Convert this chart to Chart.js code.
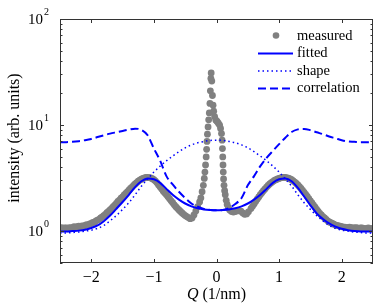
<!DOCTYPE html>
<html lang="en">
<head>
<meta charset="UTF-8">
<title>Intensity fit</title>
<script src="https://cdn.jsdelivr.net/npm/chart.js"></script>
<style>
  body { margin: 0; background: #fff; }
  #wrap { width: 382px; height: 306px; }
</style>
</head>
<body>
<div id="wrap"><canvas id="fitChart" width="382" height="306"></canvas></div>
<script>
// measured points (Q in 1/nm, intensity in arb. units), ten per line
const measuredQ = [-2.5,-2.475,-2.45,-2.425,-2.4,-2.375,-2.35,-2.325,-2.3,-2.275,
  -2.25,-2.225,-2.2,-2.175,-2.15,-2.125,-2.1,-2.075,-2.05,-2.025,
  -2.0,-1.975,-1.95,-1.925,-1.9,-1.875,-1.85,-1.825,-1.8,-1.775,
  -1.75,-1.725,-1.7,-1.675,-1.65,-1.625,-1.6,-1.575,-1.55,-1.525,
  -1.5,-1.475,-1.45,-1.425,-1.4,-1.375,-1.35,-1.325,-1.3,-1.275,
  -1.25,-1.225,-1.2,-1.175,-1.15,-1.125,-1.1,-1.075,-1.05,-1.025,
  -1.0,-0.975,-0.95,-0.925,-0.9,-0.875,-0.85,-0.825,-0.8,-0.775,
  -0.75,-0.725,-0.7,-0.675,-0.65,-0.625,-0.6,-0.575,-0.55,-0.525,
  -0.5,-0.475,-0.45,-0.42,-0.39,-0.36,-0.33,-0.3,-0.27,-0.25,
  -0.23,-0.21,-0.195,-0.185,-0.175,-0.165,-0.158,-0.152,-0.145,-0.135,
  -0.125,-0.115,-0.105,-0.098,-0.09,-0.085,-0.075,-0.065,-0.055,-0.045,
  -0.03,-0.01,0.01,0.03,0.05,0.065,0.08,0.09,0.095,0.1,
  0.104,0.108,0.113,0.12,0.13,0.14,0.155,0.17,0.19,0.21,
  0.24,0.27,0.3,0.33,0.36,0.39,0.42,0.45,0.48,0.51,
  0.55,0.575,0.6,0.625,0.65,0.675,0.7,0.725,0.75,0.775,
  0.8,0.825,0.85,0.875,0.9,0.925,0.95,0.975,1.0,1.025,
  1.05,1.075,1.1,1.125,1.15,1.175,1.2,1.225,1.25,1.275,
  1.3,1.325,1.35,1.375,1.4,1.425,1.45,1.475,1.5,1.525,
  1.55,1.575,1.6,1.625,1.65,1.675,1.7,1.725,1.75,1.775,
  1.8,1.825,1.85,1.875,1.9,1.925,1.95,1.975,2.0,2.025,
  2.05,2.075,2.1,2.125,2.15,2.175,2.2,2.225,2.25,2.275,
  2.3,2.325,2.35,2.375,2.4,2.425,2.45,2.475,2.5];
const measuredI = [1.06,1.08,1.05,1.07,1.07,1.05,1.08,1.07,1.08,1.1,
  1.08,1.1,1.11,1.09,1.12,1.11,1.13,1.15,1.14,1.17,
  1.18,1.21,1.21,1.25,1.27,1.29,1.33,1.36,1.4,1.44,
  1.49,1.53,1.58,1.64,1.7,1.76,1.82,1.9,1.96,2.04,
  2.1,2.19,2.27,2.34,2.43,2.52,2.6,2.7,2.78,2.87,
  2.95,3.03,3.08,3.14,3.17,3.2,3.2,3.19,3.17,3.12,
  3.05,2.96,2.85,2.72,2.6,2.49,2.38,2.29,2.2,2.11,
  2.02,1.93,1.85,1.77,1.7,1.64,1.58,1.53,1.48,1.44,
  1.4,1.37,1.34,1.31,1.33,1.42,1.55,1.7,1.88,2.05,
  2.35,2.7,3.14,3.6,4.2,5.0,5.9,7.0,8.2,9.6,
  11.2,13.0,16.0,21.0,27.5,31.0,26.0,19.0,15.4,13.5,
  12.0,11.1,10.8,10.4,10.0,9.3,8.3,7.2,6.0,5.0,
  4.2,3.6,3.1,2.7,2.4,2.2,1.95,1.78,1.66,1.58,
  1.53,1.51,1.53,1.55,1.56,1.54,1.48,1.44,1.45,1.52,
  1.63,1.71,1.8,1.9,2.0,2.1,2.2,2.3,2.4,2.5,
  2.6,2.69,2.78,2.86,2.93,3.0,3.05,3.1,3.14,3.18,
  3.2,3.21,3.2,3.18,3.15,3.1,3.05,2.98,2.9,2.81,
  2.72,2.62,2.52,2.42,2.32,2.22,2.12,2.02,1.93,1.84,
  1.76,1.68,1.6,1.53,1.47,1.42,1.37,1.33,1.29,1.25,
  1.22,1.2,1.18,1.16,1.14,1.13,1.12,1.11,1.1,1.09,
  1.09,1.08,1.08,1.09,1.08,1.07,1.07,1.08,1.07,1.06,
  1.07,1.07,1.06,1.05,1.06,1.07,1.06,1.05,1.06];

// model curves on a common Q grid
const curveQ = [-2.5,-2.4,-2.3,-2.2,-2.1,-2.0,-1.9,-1.8,-1.7,-1.6,
  -1.5,-1.4,-1.3,-1.2,-1.1,-1.0,-0.9,-0.8,-0.7,-0.6,
  -0.5,-0.4,-0.3,-0.2,-0.1,0,0.1,0.2,0.3,0.4,
  0.5,0.6,0.7,0.8,0.9,1.0,1.1,1.2,1.3,1.4,
  1.5,1.6,1.7,1.8,1.9,2.0,2.1,2.2,2.3,2.4,2.5];
const fittedI = [0.99,0.99,1.0,1.01,1.03,1.07,1.13,1.24,1.4,1.62,
  1.88,2.2,2.6,2.95,3.14,3.08,2.85,2.5,2.2,1.98,
  1.82,1.71,1.64,1.6,1.58,1.57,1.58,1.6,1.64,1.71,
  1.82,1.98,2.2,2.5,2.85,3.08,3.14,2.95,2.55,2.12,
  1.75,1.47,1.3,1.18,1.1,1.05,1.02,1.0,0.99,0.99,0.99];
const shapeI = [0.96,0.96,0.97,0.98,1.0,1.02,1.06,1.13,1.25,1.4,
  1.6,1.85,2.2,2.65,3.1,3.6,4.1,4.6,5.1,5.6,
  6.1,6.5,6.8,7.0,7.15,7.2,7.15,7.0,6.8,6.5,
  6.1,5.6,5.1,4.6,4.1,3.6,3.1,2.65,2.2,1.85,
  1.6,1.4,1.25,1.13,1.06,1.02,1.0,0.98,0.97,0.96,0.96];
const correlationI = [6.9,6.9,6.95,7.05,7.2,7.4,7.7,8.0,8.3,8.55,
  8.8,9.05,9.25,9.0,8.0,6.0,4.6,3.3,2.75,2.35,
  2.05,1.82,1.7,1.62,1.58,1.57,1.58,1.65,1.8,2.05,
  2.7,3.3,4.1,4.9,5.7,6.6,7.6,8.6,9.1,9.2,
  8.95,8.55,8.2,7.8,7.5,7.2,7.0,6.95,6.9,6.9,6.9];

const xTicks = [-2, -1, 0, 1, 2];
const yDecades = [0, 1, 2];
const legendLabels = ['measured', 'fitted', 'shape', 'correlation'];

const SERIF = '"Liberation Serif", "Times New Roman", serif';
const BLUE = '#0000ff';
const GRAY = '#808080';

function pairs(xs, ys) {
    return xs.map((x, i) => ({ x: x, y: ys[i] }));
}

// box, inward ticks, tick labels, axis titles and legend
const decorations = {
    id: 'decorations',
    afterDraw(chart) {
        const ctx = chart.ctx;
        const a = chart.chartArea;
        const xs = chart.scales.x;
        const ys = chart.scales.y;
        ctx.save();
        ctx.strokeStyle = '#333';
        ctx.lineWidth = 1;
        ctx.strokeRect(a.left + 0.5, a.top + 0.5, a.right - a.left - 1, a.bottom - a.top - 1);

        ctx.beginPath();
        xTicks.forEach(t => {
            const px = Math.round(xs.getPixelForValue(t)) + 0.5;
            ctx.moveTo(px, a.bottom); ctx.lineTo(px, a.bottom - 4);
            ctx.moveTo(px, a.top); ctx.lineTo(px, a.top + 4);
        });
        for (let d = -1; d <= 2; d++) {
            for (let m = 1; m <= 9; m++) {
                const v = m * Math.pow(10, d);
                if (v < ys.min || v > ys.max) continue;
                const py = Math.round(ys.getPixelForValue(v)) + 0.5;
                const len = m === 1 ? 4 : 2.5;
                ctx.moveTo(a.left, py); ctx.lineTo(a.left + len, py);
                ctx.moveTo(a.right, py); ctx.lineTo(a.right - len, py);
            }
        }
        ctx.stroke();

        ctx.fillStyle = '#000';
        ctx.textBaseline = 'middle';
        ctx.font = '16px ' + SERIF;
        ctx.textAlign = 'center';
        xTicks.forEach(t => {
            const label = t < 0 ? '\u2212' + Math.abs(t) : String(t);
            ctx.fillText(label, xs.getPixelForValue(t), 278);
        });

        yDecades.forEach(d => {
            const py = ys.getPixelForValue(Math.pow(10, d));
            ctx.font = '15px ' + SERIF;
            ctx.textAlign = 'right';
            ctx.fillText('10', 43, py + 1);
            ctx.font = '10px ' + SERIF;
            ctx.textAlign = 'left';
            ctx.fillText(String(d), 44, py - 7);
        });

        // x title: italic Q then the unit
        ctx.font = 'italic 16px ' + SERIF;
        const qW = ctx.measureText('Q').width;
        ctx.font = '16px ' + SERIF;
        const restW = ctx.measureText(' (1/nm)').width;
        const cx = (a.left + a.right) / 2;
        const tx = cx - (qW + restW) / 2;
        ctx.textAlign = 'left';
        ctx.font = 'italic 16px ' + SERIF;
        ctx.fillText('Q', tx, 295);
        ctx.font = '16px ' + SERIF;
        ctx.fillText(' (1/nm)', tx + qW, 295);

        ctx.save();
        ctx.translate(15, 138);
        ctx.rotate(-Math.PI / 2);
        ctx.textAlign = 'center';
        ctx.fillText('intensity (arb. units)', 0, 0);
        ctx.restore();

        // legend
        ctx.font = '14.5px ' + SERIF;
        ctx.textAlign = 'left';
        const dashes = [null, [], [1.5, 3], [8, 4]];
        legendLabels.forEach((label, i) => {
            const y = 36 + i * 17.5;
            if (i === 0) {
                ctx.fillStyle = GRAY;
                ctx.beginPath();
                ctx.arc(276, y - 0.5, 3.3, 0, Math.PI * 2);
                ctx.fill();
            } else {
                ctx.strokeStyle = BLUE;
                ctx.lineWidth = i === 2 ? 1.5 : 2;
                ctx.setLineDash(dashes[i]);
                ctx.beginPath();
                ctx.moveTo(258, y);
                ctx.lineTo(293, y);
                ctx.stroke();
                ctx.setLineDash([]);
            }
            ctx.fillStyle = '#000';
            ctx.fillText(label, 297, y);
        });
        ctx.restore();
    }
};

const ctx = document.getElementById('fitChart').getContext('2d');
new Chart(ctx, {
    type: 'line',
    data: {
        datasets: [
            {
                label: 'measured',
                data: pairs(measuredQ, measuredI),
                showLine: false,
                pointRadius: 3.4,
                pointBackgroundColor: GRAY,
                pointBorderWidth: 0,
                borderColor: GRAY,
                order: 3
            },
            {
                label: 'fitted',
                data: pairs(curveQ, fittedI),
                borderColor: BLUE,
                borderWidth: 2,
                pointRadius: 0,
                cubicInterpolationMode: 'monotone',
                order: 0
            },
            {
                label: 'shape',
                data: pairs(curveQ, shapeI),
                borderColor: BLUE,
                borderWidth: 1.5,
                borderDash: [1.5, 3],
                pointRadius: 0,
                cubicInterpolationMode: 'monotone',
                order: 2
            },
            {
                label: 'correlation',
                data: pairs(curveQ, correlationI),
                borderColor: BLUE,
                borderWidth: 2,
                borderDash: [8, 4],
                pointRadius: 0,
                cubicInterpolationMode: 'monotone',
                order: 1
            }
        ]
    },
    options: {
        responsive: false,
        devicePixelRatio: 1,
        animation: false,
        layout: { padding: { left: 60, right: 9, top: 19, bottom: 43 } },
        plugins: {
            legend: { display: false },
            tooltip: { enabled: false }
        },
        scales: {
            x: { type: 'linear', min: -2.5, max: 2.5, display: false },
            y: { type: 'logarithmic', min: 0.5, max: 100, display: false }
        }
    },
    plugins: [decorations]
});
</script>
</body>
</html>
